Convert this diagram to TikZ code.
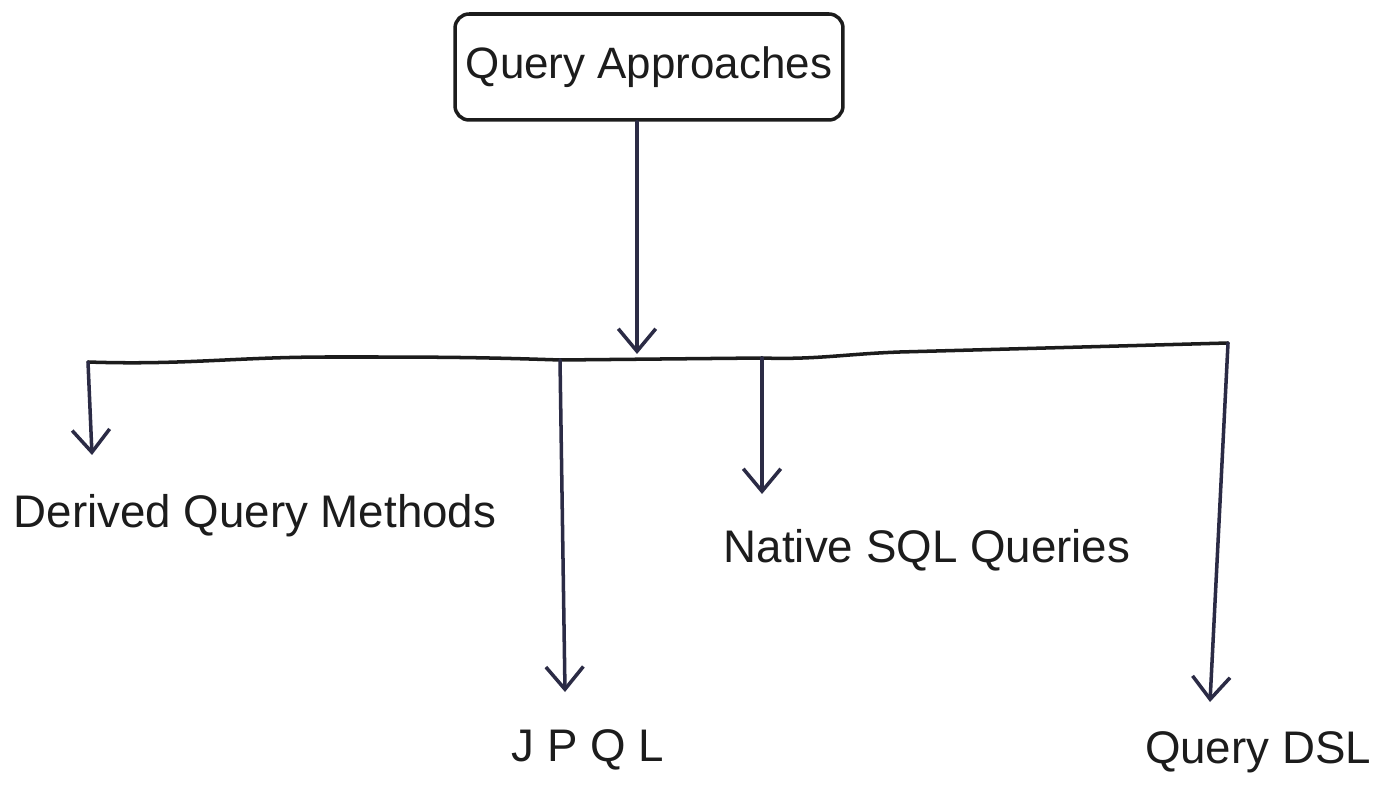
\documentclass[tikz,border=0pt]{standalone}
\usepackage{fontspec}
\setmainfont{Liberation Sans}
\usetikzlibrary{arrows.meta}
\definecolor{ink}{HTML}{1C1C1C}
\definecolor{pen}{HTML}{2B2B45}
\tikzset{
  hand/.style={line width=2pt, draw=ink, line cap=round, line join=round},
  branch/.style={line width=2pt, draw=pen, line cap=round,
    -{Straight Barb[length=0.45cm, width=0.75cm, line width=2pt]}},
  lbl/.style={text=ink, inner sep=0pt, font=\fontsize{26}{30}\selectfont},
  rootbox/.style={hand, rounded corners=8pt, minimum width=7.76cm, minimum height=2.12cm,
    text=ink, font=\fontsize{25}{29}\selectfont}
}
\begin{document}
\begin{tikzpicture}[x=0.02cm, y=-0.02cm]
  \useasboundingbox[fill=white] (0,0) rectangle (1391,786);

  % root of the tree
  \node[rootbox] (root) at (649,67) {Query Approaches};

  % branch points on the distribution bar
  \coordinate (bDQ) at (88,362);
  \coordinate (mid) at (330,357);
  \coordinate (bJP) at (560,360);
  \coordinate (hub) at (637,359);
  \coordinate (bNS) at (762,358);
  \coordinate (kink) at (900,352);
  \coordinate (bDS) at (1228,343);

  % horizontal distribution bar, slightly uneven as drawn by hand
  \draw[hand] (bDQ) to[out=-2, in=180] (mid) to[out=0, in=178] (bJP)
    -- (bNS) to[out=-2, in=182] (kink) -- (bDS);

  % arrow tips above each leaf
  \coordinate (tDQ) at (92,455);
  \coordinate (tJP) at (565,692);
  \coordinate (tNS) at (762,494);
  \coordinate (tDS) at (1210,702);

  % leaves
  \node[lbl] (dqm) at (255,516) {Derived Query Methods};
  \node[lbl] (jpql) at (588,750) {J P Q L};
  \node[lbl] (nsql) at (927,550) {Native SQL Queries};
  \node[lbl] (qdsl) at (1258,752) {Query DSL};

  % connectors
  \draw[branch] (root.south -| hub) -- ([yshift=0.1cm]hub);
  \draw[branch] (bDQ) -- (tDQ);
  \draw[branch] (bJP) -- (tJP);
  \draw[branch] (bNS) -- (tNS);
  \draw[branch] (bDS) -- (tDS);
\end{tikzpicture}
\end{document}
